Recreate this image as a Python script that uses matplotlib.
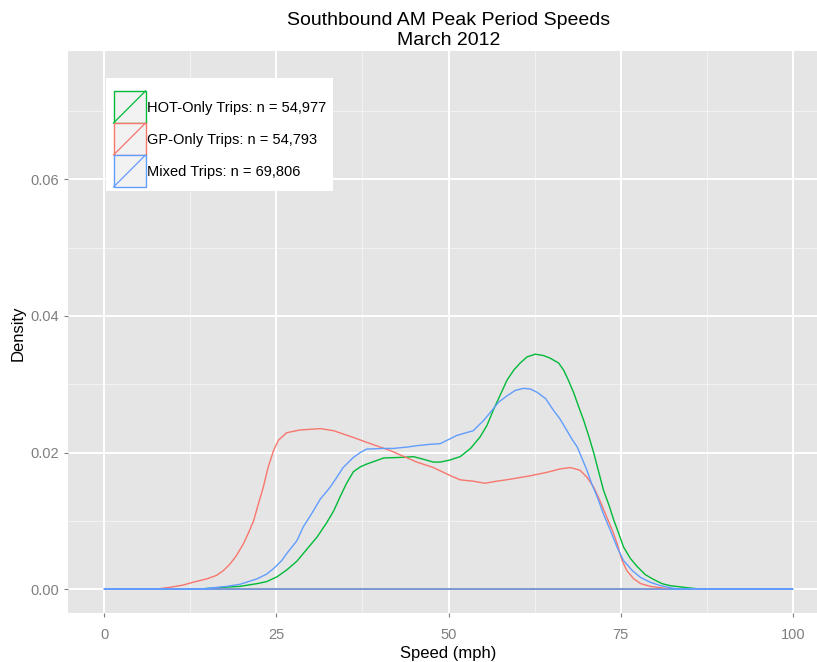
import matplotlib
matplotlib.use("Agg")
import matplotlib.pyplot as plt
from matplotlib.patches import Rectangle
from matplotlib.lines import Line2D

plt.rcParams['font.family'] = ['Liberation Sans', 'DejaVu Sans']

# ---- data ----
labels = ["HOT-Only Trips: n = 54,977", "GP-Only Trips: n = 54,793", "Mixed Trips: n = 69,806"]
colors = ["#00BA38", "#F8766D", "#619CFF"]

hot_x = [13.9, 16.3, 19.7, 22.2, 23.6, 25.1, 26.5, 28.0, 29.4, 30.9, 32.3, 33.3, 34.3, 35.2,
         36.2, 37.2, 38.1, 40.6, 43.5, 44.9, 46.4, 47.8, 48.8, 50.2, 51.7, 53.2, 54.6, 55.6,
         56.5, 57.5, 58.5, 59.5, 60.4, 61.4, 62.6, 63.8, 64.8, 66.0, 66.7, 67.4, 68.2, 68.9,
         69.6, 70.4, 71.1, 71.8, 72.5, 73.3, 74.0, 74.7, 75.4, 76.4, 77.4, 78.6, 79.8, 81.0,
         82.2, 84.7, 86.6]
hot_y = [0.0000, 0.0002, 0.0004, 0.0008, 0.0011, 0.0018, 0.0028, 0.0041, 0.0058, 0.0076,
         0.0097, 0.0114, 0.0136, 0.0155, 0.0172, 0.0179, 0.0183, 0.0192, 0.0193, 0.0194,
         0.0190, 0.0186, 0.0186, 0.0189, 0.0194, 0.0206, 0.0223, 0.0240, 0.0262, 0.0284,
         0.0306, 0.0321, 0.0331, 0.0340, 0.0344, 0.0342, 0.0338, 0.0331, 0.0321, 0.0306,
         0.0287, 0.0267, 0.0248, 0.0223, 0.0199, 0.0172, 0.0145, 0.0123, 0.0101, 0.0082,
         0.0062, 0.0045, 0.0033, 0.0021, 0.0014, 0.0008, 0.0005, 0.0002, 0.0000]

gp_x = [7.6, 9.8, 11.5, 12.9, 14.9, 16.3, 17.3, 18.3, 19.2, 20.2, 20.9, 21.7, 22.4, 23.1,
        23.8, 24.6, 25.3, 26.5, 28.4, 31.4, 33.3, 36.2, 38.1, 41.5, 45.4, 47.8, 50.3, 51.7,
        53.6, 55.3, 57.0, 59.0, 61.9, 64.3, 66.2, 67.7, 69.1, 70.1, 71.1, 72.1, 73.0, 73.8,
        74.5, 75.2, 75.9, 76.9, 77.9, 79.3, 80.8, 82.2]
gp_y = [0.0000, 0.0003, 0.0006, 0.0010, 0.0015, 0.0020, 0.0027, 0.0037, 0.0049, 0.0066,
        0.0081, 0.0100, 0.0125, 0.0149, 0.0178, 0.0203, 0.0218, 0.0229, 0.0233, 0.0235,
        0.0232, 0.0222, 0.0215, 0.0203, 0.0186, 0.0178, 0.0166, 0.0160, 0.0158, 0.0155,
        0.0158, 0.0161, 0.0166, 0.0171, 0.0176, 0.0178, 0.0174, 0.0164, 0.0149, 0.0127,
        0.0105, 0.0086, 0.0066, 0.0042, 0.0027, 0.0015, 0.0008, 0.0004, 0.0002, 0.0000]

mixed_x = [0.0, 13.9, 17.8, 19.7, 22.2, 23.6, 24.6, 25.8, 26.5, 28.0, 28.9, 30.1, 31.4, 32.8,
           33.8, 34.7, 36.2, 37.2, 38.1, 40.6, 42.0, 44.0, 45.4, 47.3, 48.8, 50.2, 51.2,
           53.6, 55.1, 56.1, 57.3, 58.5, 59.7, 60.9, 61.9, 62.9, 64.1, 65.3, 66.2, 67.2,
           67.9, 68.7, 69.4, 70.1, 70.8, 71.6, 72.5, 73.5, 74.5, 75.4, 76.7, 77.9, 79.3,
           80.8, 82.7, 84.6, 100.0]
mixed_y = [0.0000, 0.0000, 0.0004, 0.0007, 0.0015, 0.0022, 0.0030, 0.0042, 0.0052, 0.0071,
           0.0091, 0.0110, 0.0132, 0.0149, 0.0164, 0.0178, 0.0193, 0.0200, 0.0205, 0.0206,
           0.0206, 0.0208, 0.0210, 0.0212, 0.0213, 0.0220, 0.0225, 0.0232, 0.0247, 0.0259,
           0.0274, 0.0283, 0.0291, 0.0294, 0.0293, 0.0288, 0.0279, 0.0261, 0.0249, 0.0232,
           0.0220, 0.0208, 0.0191, 0.0174, 0.0154, 0.0135, 0.0110, 0.0086, 0.0061, 0.0042,
           0.0027, 0.0017, 0.0010, 0.0005, 0.0001, 0.0000, 0.0000]

x_ticks = [0, 25, 50, 75, 100]
y_ticks = [0.00, 0.02, 0.04, 0.06]
y_tick_labels = ["0.00", "0.02", "0.04", "0.06"]

W, H = 817, 662
fig = plt.figure(figsize=(W / 100, H / 100), dpi=100)
fig.patch.set_facecolor("white")

# axes placed in pixel coords (panel clipped on right like reference)
L, R, T, B = 68, 829, 51, 613
ax = fig.add_axes([L / W, (H - B) / H, (R - L) / W, (B - T) / H])
ax.set_facecolor("#E5E5E5")
ax.set_xlim(-5.25, 105.25)
ax.set_ylim(-0.0035, 0.0788)
for s in ax.spines.values():
    s.set_visible(False)

# grid
for xv in [12.5, 37.5, 62.5, 87.5]:
    ax.axvline(xv, color="#F2F2F2", lw=0.8, zorder=0.5)
for yv in [0.01, 0.03, 0.05, 0.07]:
    ax.axhline(yv, color="#F2F2F2", lw=0.8, zorder=0.5)
for xv in x_ticks:
    ax.axvline(xv, color="white", lw=1.4, zorder=0.6)
for yv in y_ticks:
    ax.axhline(yv, color="white", lw=1.4, zorder=0.6)

# density outlines (closed polygons like ggplot geom_density)
series = [(hot_x, hot_y), (gp_x, gp_y), (mixed_x, mixed_y)]
for (xs, ys), c in zip(series, colors):
    ax.fill(xs, ys, facecolor="none", edgecolor=c, lw=1.0, zorder=2,
            joinstyle="round")

ax.set_xticks(x_ticks)
ax.set_xticklabels([str(v) for v in x_ticks])
ax.set_yticks(y_ticks)
ax.set_yticklabels(y_tick_labels)
ax.tick_params(axis="both", colors="#7F7F7F", labelcolor="#7F7F7F", length=3,
               width=0.8, labelsize=10.5, direction="out")
ax.tick_params(axis="x", pad=8)
ax.tick_params(axis="y", pad=3.5)

ax.set_xlabel("Speed (mph)", fontsize=12, color="black", labelpad=3)
fig.text(18 / W, 1 - 333 / H, "Density", rotation=90, fontsize=12, color="black",
         ha="center", va="center")

ax.set_title("Southbound AM Peak Period Speeds\nMarch 2012", fontsize=14, color="black",
             pad=4, linespacing=1.3)

# legend drawn in figure pixel coords
def fx(px):
    return px / W

def fy(py):
    return 1 - py / H

fig.add_artist(Rectangle((fx(106), fy(191)), (333 - 106) / W, (191 - 78) / H,
                         transform=fig.transFigure, facecolor="white", edgecolor="none",
                         zorder=5))
key = 32
top0 = 91
for i, (lab, c) in enumerate(zip(labels, colors)):
    t = top0 + i * key
    b = t + key
    fig.add_artist(Rectangle((fx(113.5), fy(b)), key / W, key / H, transform=fig.transFigure,
                             facecolor="#F2F2F2", edgecolor=c, lw=1.0, zorder=6))
    fig.add_artist(Line2D([fx(113.5), fx(113.5 + key)], [fy(b), fy(t)],
                          transform=fig.transFigure, color=c, lw=0.9, zorder=7))
    fig.text(fx(147), fy(t + key / 2 + 1), lab, fontsize=10.5, color="black",
             ha="left", va="center", zorder=8)

fig.savefig("out.png", dpi=100)
